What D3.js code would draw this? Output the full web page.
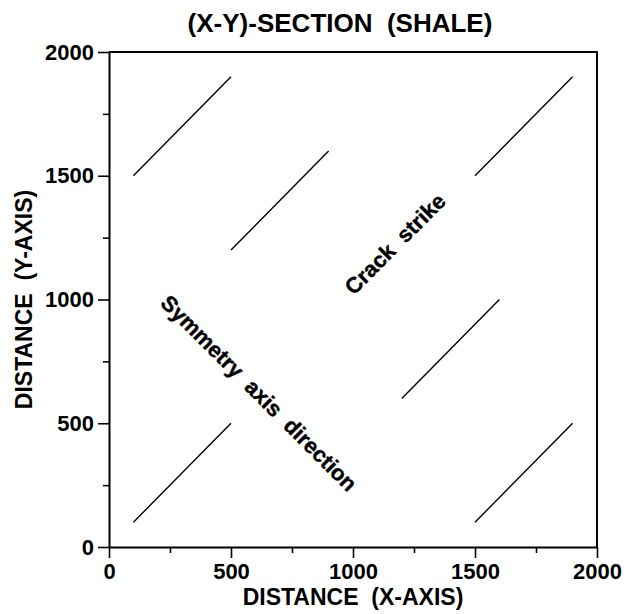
<!DOCTYPE html>
<html>
<head>
<meta charset="utf-8">
<script src="https://cdn.jsdelivr.net/npm/d3@7"></script>
<style>
  html, body { margin: 0; padding: 0; background: #fff; }
  svg text { font-family: "Liberation Sans", Arial, Helvetica, sans-serif; font-weight: bold; fill: #000; white-space: pre; }
</style>
</head>
<body>
<svg id="chart" width="626" height="614"></svg>
<script>
// ---- data ----
const title = "(X-Y)-SECTION  (SHALE)";
const xTitle = "DISTANCE  (X-AXIS)";
const yTitle = "DISTANCE  (Y-AXIS)";
const majorTicks = [0, 500, 1000, 1500, 2000];
const minorTicks = [250, 750, 1250, 1750];
// crack segments (start x, start y, end x, end y)
const segX1 = [100, 100, 500, 1200, 1500, 1500];
const segY1 = [100, 1500, 1200, 600, 1500, 100];
const segX2 = [500, 500, 900, 1600, 1900, 1900];
const segY2 = [500, 1900, 1600, 1000, 1900, 500];
const annotations = ["Crack  strike", "Symmetry  axis  direction"];
const annotX = [1172, 615];
const annotY = [1225, 622];
const annotAngle = [-45, 45];

// ---- layout ----
const svg = d3.select("#chart");
const L = 109, R = 597, T = 52, B = 547;
const x = d3.scaleLinear().domain([0, 2000]).range([L, R]);
const y = d3.scaleLinear().domain([0, 2000]).range([B, T]);

// frame (top and right)
svg.append("path")
  .attr("d", `M${x(0)},${y(2000)}H${x(2000)}V${y(0)}`)
  .attr("fill", "none").attr("stroke", "#000").attr("stroke-width", 2);

// x axis
const gx = svg.append("g").attr("transform", `translate(0,${B})`);
gx.call(d3.axisBottom(x).tickValues(majorTicks).tickSize(11).tickSizeOuter(0).tickPadding(5).tickFormat(d3.format("d")));
const gxm = svg.append("g").attr("transform", `translate(0,${B})`);
gxm.call(d3.axisBottom(x).tickValues(minorTicks).tickSize(6).tickSizeOuter(0).tickFormat(""));
gxm.select(".domain").remove();

// y axis
const gy = svg.append("g").attr("transform", `translate(${L},0)`);
gy.call(d3.axisLeft(y).tickValues(majorTicks).tickSize(11).tickSizeOuter(0).tickPadding(4).tickFormat(d3.format("d")));
const gym = svg.append("g").attr("transform", `translate(${L},0)`);
gym.call(d3.axisLeft(y).tickValues(minorTicks).tickSize(6).tickSizeOuter(0).tickFormat(""));
gym.select(".domain").remove();

svg.selectAll(".domain").attr("stroke", "#000").attr("stroke-width", 2);
svg.selectAll(".tick line").attr("stroke", "#000").attr("stroke-width", 1.6);
svg.selectAll(".tick text")
  .attr("font-size", 22).attr("font-family", "Liberation Sans, Arial, sans-serif")
  .attr("font-weight", "bold").attr("fill", "#000");

// segments
const segs = segX1.map((d, i) => ({x1: segX1[i], y1: segY1[i], x2: segX2[i], y2: segY2[i]}));
svg.append("g").selectAll("line").data(segs).join("line")
  .attr("x1", d => x(d.x1)).attr("y1", d => y(d.y1))
  .attr("x2", d => x(d.x2)).attr("y2", d => y(d.y2))
  .attr("stroke", "#000").attr("stroke-width", 1.4);

// annotations
svg.append("g").selectAll("text").data(annotations).join("text")
  .attr("transform", (d, i) => `translate(${x(annotX[i])},${y(annotY[i])}) rotate(${annotAngle[i]})`)
  .attr("text-anchor", "middle").attr("dy", "0.35em")
  .attr("font-size", 22).attr("font-weight", "bold")
  .attr("font-family", "Liberation Sans, Arial, sans-serif")
  .attr("stroke", "#000").attr("stroke-width", 0.4)
  .text(d => d);

// titles
svg.append("text").attr("x", 340).attr("y", 32).attr("text-anchor", "middle")
  .attr("font-size", 26).attr("font-weight", "bold").text(title);
svg.append("text").attr("x", (L + R) / 2).attr("y", 605).attr("text-anchor", "middle")
  .attr("font-size", 23).attr("font-weight", "bold").text(xTitle);
svg.append("text").attr("transform", `translate(32,${(T + B) / 2}) rotate(-90)`)
  .attr("text-anchor", "middle").attr("font-size", 23).attr("font-weight", "bold").text(yTitle);
</script>
</body>
</html>
